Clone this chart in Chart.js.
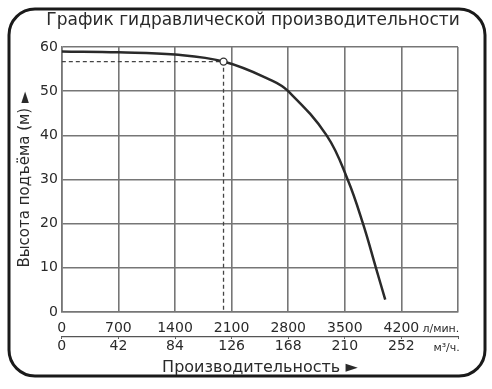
<!DOCTYPE html>
<html>
<head>
<meta charset="utf-8">
<script src="https://cdn.jsdelivr.net/npm/chart.js@4/dist/chart.umd.min.js"></script>
<style>
  html, body { margin: 0; padding: 0; background: #fff; }
  #wrap { width: 492px; height: 389px; }
</style>
</head>
<body>
<div id="wrap"><canvas id="pumpChart"></canvas></div>
<script>
// pump curve
const flowLpm = [0, 700, 1400, 2000, 2600, 2800, 3275, 3535, 3725, 3885, 4000];
const headM = [59, 58.8, 58.3, 56.7, 52.4, 50, 40, 30, 20, 10, 2.8];

// duty point with the dashed guides
const dutyFlow = 2000;
const dutyHead = 56.7;

const lpmLabels = [0, 700, 1400, 2100, 2800, 3500, 4200];
const m3hLabels = [0, 42, 84, 126, 168, 210, 252];

const ink = "#2a2a2a";
const gridCol = "#767676";
const font = "'DejaVu Sans', 'Liberation Sans', sans-serif";

const framePlugin = {
  id: "frame",
  beforeDraw(chart) {
    const c = chart.ctx;
    c.save();
    c.fillStyle = "#fff";
    c.fillRect(0, 0, chart.width, chart.height);
    c.beginPath();
    c.roundRect(9, 9, 476, 367, 26);
    c.lineWidth = 3;
    c.strokeStyle = "#1a1a1a";
    c.stroke();
    c.restore();
  },
  afterDraw(chart) {
    const c = chart.ctx;
    const x = chart.scales.x;
    const x2 = chart.scales.x2;
    const px = x.getPixelForValue(4200);
    c.save();
    c.fillStyle = ink;
    c.textBaseline = "middle";
    // title
    c.font = "17px " + font;
    c.textAlign = "center";
    c.fillText("График гидравлической производительности", 253, 21);
    // units next to the last labels
    c.textAlign = "left";
    c.font = "11px " + font;
    c.fillText("л/мин.", px + 21, chart.chartArea.bottom + 17);
    c.fillText("м³/ч.", px + 32, x2.top + 11);
    c.restore();
  },
};

new Chart(document.getElementById("pumpChart"), {
  type: "line",
  data: {
    datasets: [
      {
        data: flowLpm.map((f, i) => ({ x: f, y: headM[i] })),
        borderColor: ink,
        borderWidth: 2.5,
        pointRadius: 0,
        tension: 0.4,
        order: 2,
      },
      {
        data: [
          { x: 0, y: dutyHead },
          { x: dutyFlow, y: dutyHead },
          { x: dutyFlow, y: 0 },
        ],
        borderColor: "#444",
        borderWidth: 1.3,
        borderDash: [4, 3],
        pointRadius: 0,
        order: 3,
      },
      {
        data: [{ x: dutyFlow, y: dutyHead }],
        showLine: false,
        pointRadius: 3.5,
        pointBackgroundColor: "#fff",
        pointBorderColor: "#333",
        pointBorderWidth: 1.3,
        order: 1,
      },
    ],
  },
  options: {
    responsive: true,
    maintainAspectRatio: false,
    animation: false,
    layout: { padding: { left: 16, right: 34, top: 47, bottom: 10 } },
    plugins: {
      legend: { display: false },
      tooltip: { enabled: false },
      title: { display: false },
    },
    scales: {
      x: {
        type: "linear",
        position: "bottom",
        weight: 0,
        min: 0,
        max: 4900,
        afterFit: (scale) => {
          scale.height = 25;
        },
        ticks: {
          stepSize: 700,
          maxRotation: 0,
          padding: 12.5,
          color: ink,
          font: { family: font, size: 14, lineHeight: 0.5 },
          callback: (v) => (lpmLabels.includes(v) ? v : ""),
        },
        grid: { color: gridCol, lineWidth: 1.6, drawTicks: false },
        border: { color: gridCol, width: 1.6 },
      },
      x2: {
        type: "linear",
        position: "bottom",
        weight: 1,
        min: 0,
        max: 294,
        afterFit: (scale) => {
          scale.height = 42;
        },
        ticks: {
          stepSize: 42,
          maxRotation: 0,
          padding: 0,
          color: ink,
          font: { family: font, size: 14, lineHeight: 1.1 },
          callback: (v) => (m3hLabels.includes(v) ? v : ""),
        },
        grid: { drawOnChartArea: false, tickLength: 2, color: "#555" },
        border: { color: "#555", width: 1.2 },
        title: {
          display: true,
          text: "Производительность ►",
          color: ink,
          font: { family: font, size: 16, lineHeight: 1.1 },
          padding: { top: 1, bottom: 2 },
        },
      },
      y: {
        min: 0,
        max: 60,
        ticks: {
          stepSize: 10,
          padding: 4,
          color: ink,
          font: { family: font, size: 14 },
        },
        grid: { color: gridCol, lineWidth: 1.6, drawTicks: false },
        border: { color: gridCol, width: 1.6 },
        title: {
          display: true,
          text: "Высота подъёма (м) ►",
          color: ink,
          font: { family: font, size: 15 },
          padding: { top: 0, bottom: 2 },
        },
      },
    },
  },
  plugins: [framePlugin],
});
</script>
</body>
</html>
